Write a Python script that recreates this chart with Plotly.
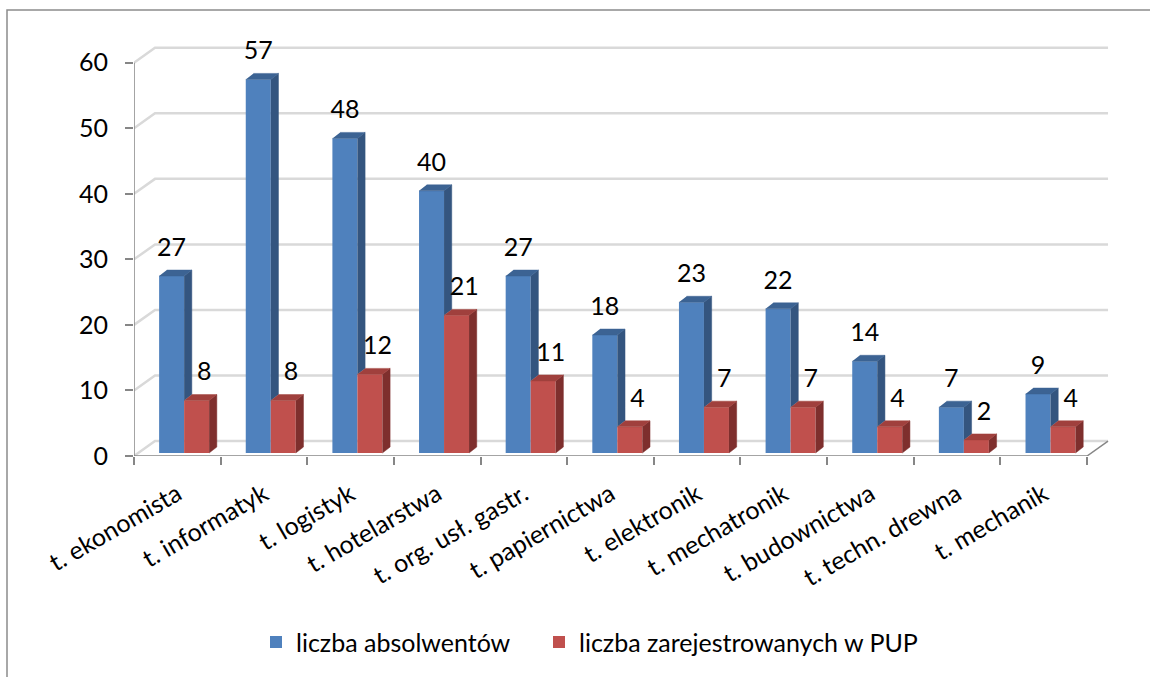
import numpy as np
import plotly.graph_objects as go

# ---------------- data ----------------
categories = [
    "t. ekonomista", "t. informatyk", "t. logistyk", "t. hotelarstwa",
    "t. org. usł. gastr.", "t. papiernictwa", "t. elektronik",
    "t. mechatronik", "t. budownictwa", "t. techn. drewna", "t. mechanik",
]
absolwenci = [27, 57, 48, 40, 27, 18, 23, 22, 14, 7, 9]
zarejestrowani = [8, 8, 12, 21, 11, 4, 7, 7, 4, 2, 4]
y_ticks = [0, 10, 20, 30, 40, 50, 60]
series_names = ["liczba absolwentów", "liczba zarejestrowanych w PUP"]

# ---------------- styling / geometry ----------------
W, H = 1150, 677
L, R, T, B = 134, 20, 20, 219
PLOT_W = W - L - R
PLOT_H = H - T - B
PX_CAT = 86.64      # px per category
PX_VAL = 6.585      # px per value unit


def ux(px):
    return px / PX_CAT


def uy(px):
    return px / PX_VAL


n = len(categories)
pos = np.arange(n)
x_range = [-0.5, -0.5 + PLOT_W / PX_CAT]
y_range = [0, PLOT_H / PX_VAL]

shift_x, shift_y = ux(6.8), uy(3)   # bar plane offset inside the 3D box
bar_w = ux(25)
bdx, bdy = ux(7.7), uy(6)           # bar depth
wdx, wdy = ux(21), uy(15)           # wall depth

BLUE, BLUE_SIDE, BLUE_TOP = "#4F81BD", "#34557F", "#3C6393"
RED, RED_SIDE, RED_TOP = "#C0504D", "#7E2F2D", "#A0403D"
GRID = "#D9D9D9"
AXIS = "#868686"
FONT = "Lato, 'Open Sans', sans-serif"
FS = 25

fig = go.Figure()

# front faces
fig.add_trace(go.Bar(
    x=pos, y=absolwenci, base=shift_y, offset=shift_x - bar_w, width=bar_w,
    marker=dict(color=BLUE, line=dict(width=0)), name=series_names[0],
    legend="legend",
))
fig.add_trace(go.Bar(
    x=pos, y=zarejestrowani, base=shift_y, offset=shift_x, width=bar_w,
    marker=dict(color=RED, line=dict(width=0)), name=series_names[1],
    legend="legend2",
))

# side and top faces
bs_x, bs_y, bt_x, bt_y, rs_x, rs_y, rt_x, rt_y = ([] for _ in range(8))
for i in range(n):
    xm = i + shift_x
    xl = xm - bar_w
    xr = xm + bar_w
    btop = shift_y + absolwenci[i]
    rtop = shift_y + zarejestrowani[i]
    # blue side (visible part above red bar)
    bs_x += [xm, xm + bdx, xm + bdx, xm, None]
    bs_y += [rtop, rtop + bdy, btop + bdy, btop, None]
    # blue top
    bt_x += [xl, xm, xm + bdx, xl + bdx, None]
    bt_y += [btop, btop, btop + bdy, btop + bdy, None]
    # red side
    rs_x += [xr, xr + bdx, xr + bdx, xr, None]
    rs_y += [shift_y, shift_y + bdy, rtop + bdy, rtop, None]
    # red top
    rt_x += [xm, xr, xr + bdx, xm + bdx, None]
    rt_y += [rtop, rtop, rtop + bdy, rtop + bdy, None]

for xs, ys, col in [(bs_x, bs_y, BLUE_SIDE), (bt_x, bt_y, BLUE_TOP),
                    (rs_x, rs_y, RED_SIDE), (rt_x, rt_y, RED_TOP)]:
    fig.add_trace(go.Scatter(
        x=xs, y=ys, mode="lines", fill="toself", fillcolor=col,
        line=dict(width=0.5, color=col), showlegend=False, hoverinfo="skip",
    ))

# data labels
lab_off = uy(8)
fig.add_trace(go.Scatter(
    x=pos + shift_x - bar_w / 2,
    y=[shift_y + v + bdy + lab_off for v in absolwenci],
    text=[str(v) for v in absolwenci], mode="text", textposition="top center",
    textfont=dict(family=FONT, size=FS, color="black"),
    showlegend=False, hoverinfo="skip",
))
fig.add_trace(go.Scatter(
    x=pos + shift_x + bar_w / 2 + bdx,
    y=[shift_y + v + bdy + lab_off for v in zarejestrowani],
    text=[str(v) for v in zarejestrowani], mode="text", textposition="top center",
    textfont=dict(family=FONT, size=FS, color="black"),
    showlegend=False, hoverinfo="skip",
))

# walls: gridlines on side and back walls
shapes = []
x0 = -0.5
x_end = n - 0.5 + wdx
for t in y_ticks:
    shapes.append(dict(
        type="path", xref="x", yref="y", layer="below",
        path=f"M {x0},{t} L {x0 + wdx},{t + wdy} L {x_end},{t + wdy}",
        line=dict(color=GRID, width=2.5),
    ))
# floor front edge, right floor edge, y axis line
shapes.append(dict(type="line", xref="x", yref="y", layer="below",
                   x0=x0, x1=n - 0.5, y0=0, y1=0,
                   line=dict(color=AXIS, width=1.5)))
shapes.append(dict(type="line", xref="x", yref="y", layer="below",
                   x0=n - 0.5, x1=n - 0.5 + wdx, y0=0, y1=wdy,
                   line=dict(color=AXIS, width=1.5)))
shapes.append(dict(type="line", xref="x", yref="y", layer="below",
                   x0=x0, x1=x0, y0=0, y1=y_ticks[-1],
                   line=dict(color=AXIS, width=1.5)))
# chart frame
shapes.append(dict(type="rect", xref="paper", yref="paper", layer="below",
                   x0=(7 - L) / PLOT_W, x1=(W + 20 - L) / PLOT_W,
                   y0=(T + PLOT_H - (H + 20)) / PLOT_H, y1=(T + PLOT_H - 10) / PLOT_H,
                   line=dict(color="#8C8C8C", width=1.5),
                   fillcolor="rgba(0,0,0,0)"))

legend_common = dict(
    orientation="h", xanchor="left", yanchor="middle",
    y=(T + PLOT_H - 645) / PLOT_H,
    font=dict(family=FONT, size=FS, color="black"),
    bgcolor="rgba(0,0,0,0)", itemclick=False, itemdoubleclick=False,
)

fig.update_layout(
    width=W, height=H,
    margin=dict(l=L, r=R, t=T, b=B, pad=0),
    paper_bgcolor="white", plot_bgcolor="white",
    barmode="overlay",
    hovermode=False,
    font=dict(family=FONT, size=FS, color="black"),
    shapes=shapes,
    showlegend=True,
    legend=dict(x=(256 - L) / PLOT_W, **legend_common),
    legend2=dict(x=(539 - L) / PLOT_W, **legend_common),
    xaxis=dict(
        range=x_range, tickvals=list(pos), ticktext=categories,
        ticks="", tickangle=-30, tickfont=dict(family=FONT, size=FS),
        ticklabelstandoff=18,
        showgrid=False, zeroline=False, showline=False, fixedrange=True,
        minor=dict(tickvals=list(np.arange(n + 1) - 0.5), ticks="outside",
                   ticklen=8, tickcolor=AXIS, tickwidth=1.5, showgrid=False),
    ),
    yaxis=dict(
        range=y_range, tickvals=y_ticks, ticks="outside", ticklen=8,
        tickcolor=AXIS, tickwidth=1.5, tickfont=dict(family=FONT, size=FS),
        ticklabelstandoff=12,
        showgrid=False, zeroline=False, showline=False, fixedrange=True,
    ),
)

fig.write_html(
    "out.html",
    config={"displayModeBar": False},
    post_script="document.body.style.margin='0';document.body.style.overflow='hidden';",
)
